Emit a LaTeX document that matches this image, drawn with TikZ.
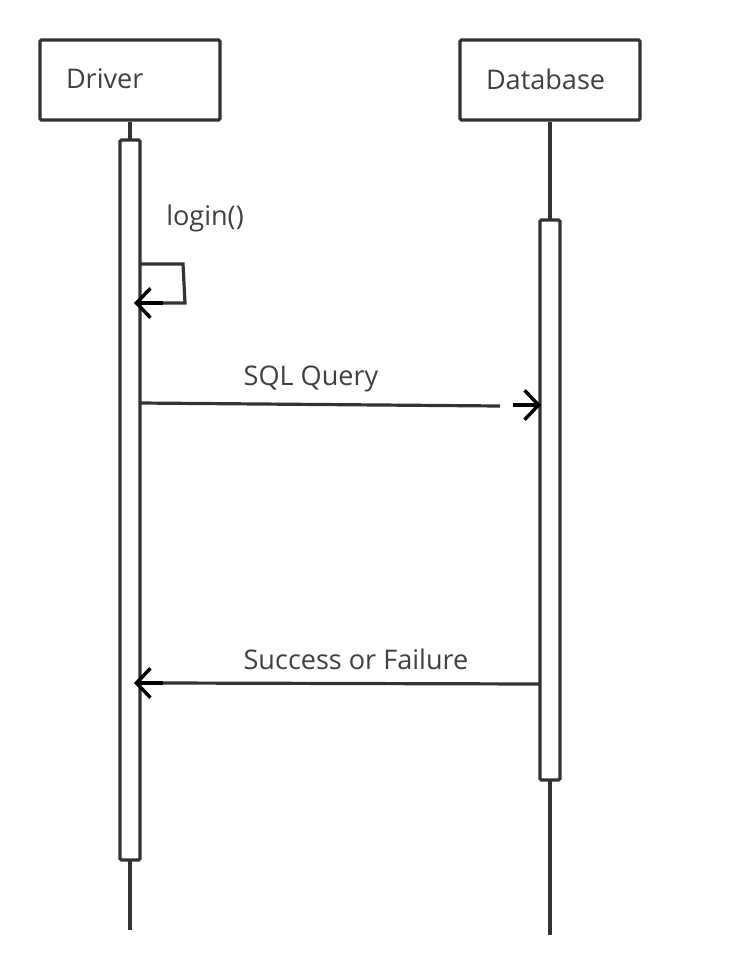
\documentclass[tikz,border=0pt]{standalone}
\usepackage{fontspec}
\setmainfont{Open Sans}
\usetikzlibrary{arrows.meta}
\definecolor{ln}{HTML}{333333}
\definecolor{tx}{HTML}{404040}
\begin{document}
\begin{tikzpicture}[x=0.75pt,y=-0.75pt,
  every node/.style={font=\fontsize{20.3pt}{24pt}\selectfont, text=tx},
  lifebox/.style={draw=ln, line width=2.4pt, minimum width=135pt, minimum height=60pt, text width=96pt, inner xsep=19.5pt, align=left, rounded corners=1pt},
  actbox/.style={draw=ln, line width=2.4pt, fill=white, minimum width=15pt, inner sep=0pt, rounded corners=1pt},
  lifeline/.style={draw=ln, line width=2.4pt},
  msg/.style={draw=ln, line width=2.4pt},
  tip/.style={-{Straight Barb[length=10.5pt,width=22pt,line width=2.6pt,color=black]}},
  lbl/.style={inner sep=0pt}]
\useasboundingbox (0,0) rectangle (745,975);
% lifeline boxes
\node[lifebox] (drv) at (130,80) {\raisebox{1.5pt}{Driver}};
\node[lifebox] (db) at (550,80) {\raisebox{1.5pt}{Database}};
% lifeline ends
\coordinate (drvend) at (130,930);
\coordinate (dbend) at (550,935);
\draw[lifeline] (drv.south) -- (drvend);
\draw[lifeline] (db.south) -- (dbend);
% activations
\node[actbox, minimum height=540pt] (drvact) at (130,500) {};
\node[actbox, minimum height=420pt] (dbact) at (550,500) {};
% login self message
\node[lbl] (loginlbl) at (205,218) {login()};
\coordinate (s1) at (140,264);
\coordinate (s2) at (183,264);
\coordinate (s3) at (185,303);
\coordinate (s4) at (163,303);
\coordinate (s5) at (134,303);
\draw[msg] (s1) -- (s2) -- (s3) -- (s4);
\draw[msg, draw=black, tip] (s4) -- (s5);
% SQL Query
\node[lbl] (sqllbl) at (311,379) {SQL Query};
\coordinate (q0) at (140,403);
\coordinate (q1) at (500,406);
\coordinate (q2) at (513,405);
\coordinate (q3) at (541,405);
\draw[msg] (q0) -- (q1);
\draw[msg, draw=black, tip] (q2) -- (q3);
% Success or Failure
\node[lbl] (retlbl) at (356,659) {Success or Failure};
\coordinate (r0) at (540,684);
\coordinate (r1) at (163,683);
\coordinate (r2) at (134,683);
\draw[msg] (r0) -- (r1);
\draw[msg, draw=black, tip] (r1) -- (r2);
\end{tikzpicture}
\end{document}
